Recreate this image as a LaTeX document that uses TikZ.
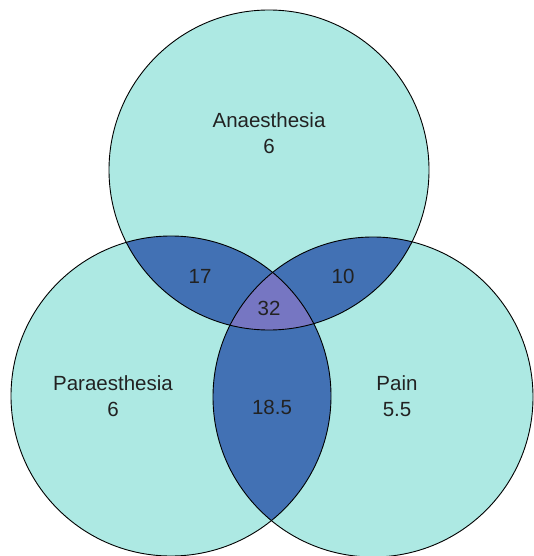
\documentclass[tikz,border=0pt]{standalone}
\usepackage{fontspec}
\setmainfont{Liberation Sans}
\definecolor{aqua}{RGB}{173,233,227}
\definecolor{pairblue}{RGB}{66,113,180}
\definecolor{tripurple}{RGB}{118,118,194}
\definecolor{txt}{RGB}{34,34,34}
\begin{document}
\begin{tikzpicture}[x=1pt,y=-1pt,
  lbl/.style={text=txt,font=\fontsize{20.5}{26}\selectfont,align=center,inner sep=0pt},
  outline/.style={draw=black,line width=0.9pt}]
\useasboundingbox (0,0) rectangle (534,556);
\def\R{160}
\coordinate (T) at (269,170);
\coordinate (L) at (171,396);
\coordinate (P) at (373,397);
% base fills
\fill[aqua] (T) circle[radius=\R];
\fill[aqua] (L) circle[radius=\R];
\fill[aqua] (P) circle[radius=\R];
% pairwise intersections
\begin{scope}
  \clip (T) circle[radius=\R];
  \fill[pairblue] (L) circle[radius=\R];
  \fill[pairblue] (P) circle[radius=\R];
\end{scope}
\begin{scope}
  \clip (L) circle[radius=\R];
  \fill[pairblue] (P) circle[radius=\R];
\end{scope}
% triple
\begin{scope}
  \clip (T) circle[radius=\R];
  \clip (L) circle[radius=\R];
  \fill[tripurple] (P) circle[radius=\R];
\end{scope}
% outlines
\draw[outline] (T) circle[radius=\R];
\draw[outline] (L) circle[radius=\R];
\draw[outline] (P) circle[radius=\R];
% labels
\node[lbl] (ta) at (269,133) {Anaesthesia\\6};
\node[lbl] (tl) at (113,396) {Paraesthesia\\6};
\node[lbl] (tp) at (397,396) {Pain\\5.5};
\node[lbl] (tlt) at (200,276) {17};
\node[lbl] (tpt) at (343,276) {10};
\node[lbl] (tall) at (269,308) {32};
\node[lbl] (tlp) at (272,407) {18.5};
\end{tikzpicture}
\end{document}
